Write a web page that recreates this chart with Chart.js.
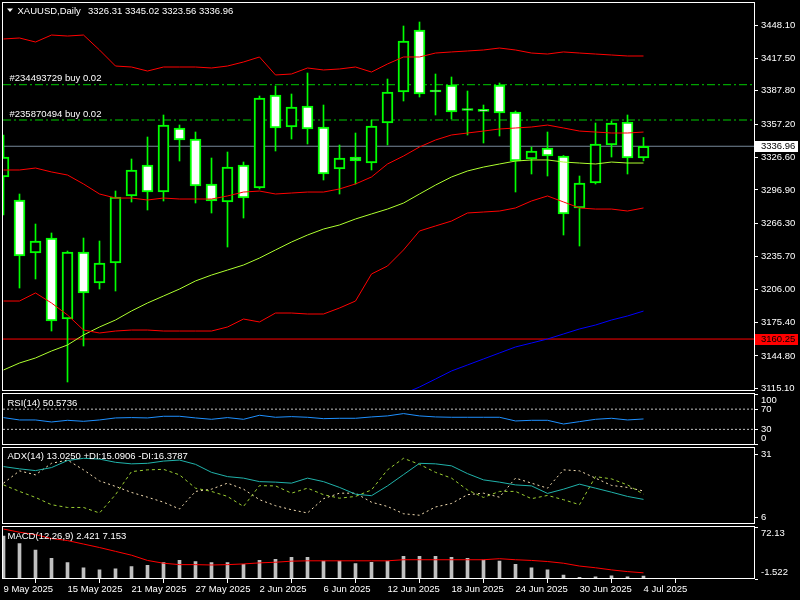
<!DOCTYPE html>
<html><head><meta charset="utf-8">
<script src="https://cdn.jsdelivr.net/npm/chart.js@4.4.1/dist/chart.umd.min.js"></script>
<style>
html,body{margin:0;padding:0;background:#000;width:800px;height:600px;overflow:hidden}
canvas{position:absolute;left:0}
</style></head><body>
<canvas id="cMain" width="800" height="393" style="top:0px;width:800px;height:393px"></canvas>
<canvas id="cRsi" width="800" height="53" style="top:393px;width:800px;height:53px"></canvas>
<canvas id="cAdx" width="800" height="79" style="top:446px;width:800px;height:79px"></canvas>
<canvas id="cMacd" width="800" height="75" style="top:525px;width:800px;height:75px"></canvas>
<script>
// ---------------- data ----------------
const dates = ['9 May 2025','12 May 2025','13 May 2025','14 May 2025','15 May 2025','16 May 2025','19 May 2025','20 May 2025','21 May 2025','22 May 2025','23 May 2025','26 May 2025','27 May 2025','28 May 2025','29 May 2025','30 May 2025','2 Jun 2025','3 Jun 2025','4 Jun 2025','5 Jun 2025','6 Jun 2025','9 Jun 2025','10 Jun 2025','11 Jun 2025','12 Jun 2025','13 Jun 2025','16 Jun 2025','17 Jun 2025','18 Jun 2025','19 Jun 2025','20 Jun 2025','23 Jun 2025','24 Jun 2025','25 Jun 2025','26 Jun 2025','27 Jun 2025','30 Jun 2025','1 Jul 2025','2 Jul 2025','3 Jul 2025','4 Jul 2025'];
const dateTickEvery = 4;

const open  = [3308.78,3287.70,3239.11,3252.86,3178.62,3240.03,3211.61,3229.95,3291.36,3319.78,3295.03,3353.69,3343.61,3302.36,3285.86,3319.78,3298.69,3383.94,3354.61,3373.85,3354.61,3316.11,3327.11,3321.61,3358.27,3386.69,3443.52,3388.06,3393.10,3370.19,3369.27,3393.10,3368.36,3325.28,3335.36,3328.02,3280.36,3303.28,3338.11,3359.19,3326.31];
const high  = [3347.27,3293.19,3265.69,3257.45,3240.95,3252.86,3250.11,3295.94,3325.28,3345.44,3365.61,3356.44,3350.03,3326.19,3331.69,3322.53,3383.02,3392.19,3384.85,3404.10,3374.77,3338.11,3349.11,3361.02,3398.60,3447.18,3450.85,3403.19,3400.44,3387.60,3374.77,3394.94,3369.27,3336.27,3350.03,3328.50,3309.69,3358.27,3360.11,3365.61,3345.02];
const low   = [3273.94,3207.03,3215.28,3167.62,3120.88,3153.88,3206.11,3204.28,3285.86,3278.53,3286.78,3323.44,3284.95,3275.78,3244.61,3271.19,3297.78,3332.61,3343.61,3339.03,3306.03,3293.19,3302.36,3315.19,3338.11,3378.44,3382.11,3365.61,3361.94,3347.27,3339.94,3346.36,3295.03,3311.53,3309.69,3255.61,3245.53,3302.36,3327.11,3311.53,3323.56];
const close = [3327.11,3236.37,3250.11,3176.79,3240.03,3202.45,3229.95,3290.44,3315.19,3295.03,3356.44,3342.69,3300.53,3286.78,3317.94,3289.53,3381.19,3353.69,3372.94,3352.78,3311.53,3326.19,3323.44,3355.52,3386.69,3433.43,3384.85,3386.69,3368.36,3369.73,3369.00,3367.44,3323.44,3332.61,3328.02,3274.86,3303.28,3339.03,3358.27,3326.19,3336.96];

const bbUpper = [3435.3,3436.2,3432.5,3438.9,3438.0,3438.9,3425.2,3410.5,3409.6,3405.9,3409.6,3409.6,3409.6,3408.7,3410.5,3414.2,3418.8,3402.3,3403.2,3408.7,3406.9,3407.8,3409.6,3405.0,3412.4,3418.8,3418.8,3422.4,3423.4,3424.3,3425.2,3427.0,3425.2,3422.4,3421.5,3423.4,3422.4,3421.5,3420.6,3419.7,3419.7];
const bbMid   = [3315.2,3315.2,3317.0,3313.4,3310.6,3302.4,3293.2,3289.5,3289.5,3287.7,3289.5,3288.6,3288.6,3288.6,3291.4,3295.0,3295.9,3293.2,3294.1,3295.0,3295.0,3297.8,3302.4,3308.8,3320.7,3328.0,3336.3,3342.7,3347.3,3349.1,3350.9,3352.8,3353.7,3354.6,3356.4,3353.7,3350.9,3350.0,3349.1,3349.1,3350.0];
const bbLower = [3195.1,3195.1,3202.5,3193.3,3182.3,3168.5,3165.8,3167.6,3168.5,3168.5,3167.6,3167.6,3167.6,3167.6,3171.3,3178.6,3175.9,3184.1,3184.1,3183.2,3183.2,3188.7,3195.1,3219.9,3227.2,3241.9,3259.3,3263.9,3268.4,3275.8,3276.7,3277.6,3280.4,3286.8,3291.4,3285.9,3280.4,3279.4,3279.4,3277.6,3280.4];
const maFast  = [3131.9,3138.3,3142.9,3149.3,3154.8,3164.0,3171.3,3177.7,3186.0,3193.3,3199.7,3206.1,3213.5,3218.9,3223.5,3228.1,3234.5,3241.9,3249.2,3255.6,3261.1,3264.8,3270.3,3274.9,3279.4,3284.9,3293.2,3301.4,3308.8,3314.3,3317.9,3320.7,3323.4,3324.4,3324.4,3322.5,3321.6,3320.7,3322.5,3321.6,3321.6];
const maSlow  = [null,null,null,null,null,null,null,null,null,null,null,null,null,null,null,null,null,null,null,null,null,null,3087.9,3095.2,3102.5,3109.9,3116.3,3123.6,3131.0,3136.5,3142.0,3147.5,3153.0,3156.6,3160.3,3164.9,3169.5,3173.1,3177.7,3181.4,3185.9];

const priceTicks = [3448.10,3417.50,3387.80,3357.20,3326.60,3296.90,3266.30,3235.70,3206.00,3175.40,3144.80,3115.10];
const bidPrice = 3336.96;
const redLevel = 3160.25;
const orders = [{ticket:'#234493729', side:'buy', lots:'0.02', price:3393.38},
                {ticket:'#235870494', side:'buy', lots:'0.02', price:3361.02}];

const rsi = [53.3,48.6,48.6,44.6,47.9,45.9,48.6,52.6,53.3,52.6,55.9,55.9,52.6,49.9,53.3,49.9,57.9,53.9,55.2,53.9,51.2,51.9,51.9,54.6,56.6,61.2,56.6,54.6,53.9,53.9,53.9,53.9,46.6,47.9,47.9,40.6,45.3,49.9,51.9,48.6,50.5736];
const rsiLevels = [70, 30];

const adx     = [26.1,25.2,24.5,25.7,28.5,29.4,29.1,27.8,27.2,27.4,28.3,28.7,27.0,23.8,22.1,21.5,20.1,19.9,19.5,21.5,20.1,17.8,15.1,14.5,18.4,22.9,27.4,27.2,26.4,23.3,20.8,19.9,18.8,18.4,15.4,17.1,19.1,17.5,15.9,14.2,13.025];
const plusDI  = [18.8,16.2,13.8,10.9,9.8,9.8,7.6,14.9,24.1,24.8,25.0,22.8,17.5,16.2,14.2,10.2,18.5,18.4,15.5,17.5,14.9,13.5,14.2,16.8,24.8,29.4,27.0,23.8,21.5,16.8,13.8,16.2,16.2,13.3,14.6,12.9,10.9,22.1,21.2,18.8,15.0906];
const minusDI = [19.5,24.4,22.8,27.4,28.7,24.8,20.4,18.2,15.8,13.9,11.9,9.2,16.2,17.1,19.5,17.1,12.9,10.5,8.9,7.6,13.3,15.5,15.5,11.9,10.2,7.3,6.7,10.0,11.4,14.9,15.5,13.9,21.5,19.5,17.5,24.8,24.4,21.5,18.6,17.8,16.3787];

const macdMain   = [59.0,48.2,39.3,27.5,21.7,14.3,11.3,12.8,15.8,17.7,21.7,24.6,23.1,21.7,21.7,19.2,24.6,26.1,29.0,29.0,23.6,23.6,20.2,22.1,23.6,30.5,30.5,30.5,29.0,27.5,25.1,23.6,19.2,14.3,11.3,4.0,1.0,1.5,3.0,1.5,2.421];
const macdSignal = [68.8,64.4,60.9,55.5,52.6,47.7,42.8,37.4,32.0,24.6,20.7,18.7,18.7,18.2,18.7,19.7,21.2,22.1,23.6,24.1,24.1,24.1,24.1,24.1,24.1,25.6,25.6,25.6,25.6,25.6,25.6,27.1,25.6,24.6,23.1,20.7,16.7,14.3,11.3,8.9,7.153];

// ---------------- setup ----------------
const FONT_SIZE = 9.5;
const FONT = FONT_SIZE + 'px "Liberation Sans", Arial, sans-serif';
Chart.defaults.font.family = '"Liberation Sans", Arial, sans-serif';
Chart.defaults.font.size = FONT_SIZE;
Chart.defaults.color = '#ffffff';

const X_MIN = -1/32, X_MAX = 47 - 1/32;
const idx = dates.map((d, i) => i);
const last = arr => arr[arr.length - 1];
const pts = arr => arr.map((v, i) => ({x: i, y: v}));
const hline = v => [{x: X_MIN - 1, y: v}, {x: X_MAX + 1, y: v}];
const line = (data, color, extra) => Object.assign({type: 'line', data: data, borderColor: color, borderWidth: 1, pointRadius: 0, tension: 0, fill: false, spanGaps: false, order: 1}, extra || {});

function xHidden() {
  return {type: 'linear', min: X_MIN, max: X_MAX, offset: false, display: false};
}

const decoPlugin = {
  id: 'deco',
  afterDraw(chart, args, opts) {
    const ctx = chart.ctx, a = chart.chartArea, ys = chart.scales.y;
    ctx.save();
    const L = Math.round(a.left), R = Math.round(a.right), T = Math.round(a.top), B = Math.round(a.bottom);
    ctx.strokeStyle = '#ffffff'; ctx.lineWidth = 1;
    ctx.strokeRect(L - 0.5, T - 0.5, R - L, B - T);
    ctx.font = FONT; ctx.textBaseline = 'middle'; ctx.textAlign = 'left';
    if (opts.triangle) {
      ctx.fillStyle = '#ffffff'; ctx.beginPath();
      ctx.moveTo(7, 8.5); ctx.lineTo(13, 8.5); ctx.lineTo(10, 12); ctx.closePath(); ctx.fill();
    }
    (opts.texts || []).forEach(t => { ctx.fillStyle = t.color || '#ffffff'; ctx.fillText(t.text, t.x, t.y); });
    (opts.priceTexts || []).forEach(t => { ctx.fillStyle = t.color || '#ffffff'; ctx.fillText(t.text, t.x, ys.getPixelForValue(t.value) + t.dy); });
    (opts.axisLabels || []).forEach(l => {
      const py = ys.getPixelForValue(l.value);
      if (py >= a.top && py <= a.bottom) {
        ctx.beginPath(); ctx.moveTo(R, Math.round(py) + 0.5); ctx.lineTo(R + 3, Math.round(py) + 0.5); ctx.stroke();
      }
      const ly = Math.min(Math.max(py, a.top + 6.5), a.bottom - 6.5);
      ctx.fillStyle = '#ffffff'; ctx.fillText(l.text, R + 6, ly);
    });
    (opts.tags || []).forEach(t => {
      const py = ys.getPixelForValue(t.value);
      ctx.fillStyle = t.bg; ctx.fillRect(R, Math.round(py) - 5, 43, 11);
      ctx.fillStyle = t.color; ctx.fillText(t.text, R + 6, Math.round(py) + 0.5);
    });
    ctx.restore();
  }
};

const baseOpts = (pad) => ({
  responsive: false, animation: false, events: [],
  layout: {padding: pad},
  plugins: {legend: {display: false}, tooltip: {enabled: false}}
});

// ---------------- main price chart ----------------
{
  const opts = baseOpts({left: 3, right: 0, top: 3, bottom: 2});
  opts.scales = {
    x: xHidden(),
    y: {
      position: 'right', min: 3112.63, max: 3468.27,
      afterBuildTicks: s => { s.ticks = priceTicks.map(v => ({value: v})); },
      afterFit: s => { s.width = 45; s.paddingTop = 0; s.paddingBottom = 0; },
      grid: {drawOnChartArea: false, drawTicks: true, tickLength: 3, color: '#ffffff'},
      border: {display: false},
      ticks: {color: '#ffffff', padding: 3, autoSkip: false, callback: v => Number(v).toFixed(2)}
    }
  };
  opts.plugins.deco = {
    triangle: true,
    texts: [
      {text: 'XAUUSD,Daily', x: 17.5, y: 11.5},
      {text: [last(open), last(high), last(low), last(close)].map(v => v.toFixed(2)).join(' '), x: 88, y: 11.5}
    ],
    priceTexts: orders.map(o => ({text: o.ticket + ' ' + o.side + ' ' + o.lots, x: 9.5, value: o.price, dy: -6})),
    tags: [
      {value: bidPrice, text: bidPrice.toFixed(2), bg: '#ffffff', color: '#000000'},
      {value: redLevel, text: redLevel.toFixed(2), bg: '#ff0000', color: '#000000'}
    ]
  };
  new Chart(document.getElementById('cMain'), {
    type: 'bar',
    data: {datasets: [
      line(hline(bidPrice), '#778899', {order: 30}),
      line(hline(redLevel), '#ff0000', {order: 30}),
      line(hline(orders[0].price), '#00cc00', {order: 30, borderDash: [8, 3, 2, 3]}),
      line(hline(orders[1].price), '#00cc00', {order: 30, borderDash: [8, 3, 2, 3]}),
      {type: 'bar', data: idx.map(i => ({x: i, y: [low[i], high[i]]})), backgroundColor: '#00ff00', borderWidth: 0,
       barThickness: 1, grouped: false, order: 20},
      {type: 'bar', data: idx.map(i => ({x: i, y: [open[i], close[i]]})),
       backgroundColor: idx.map(i => close[i] < open[i] ? '#ffffff' : '#000000'),
       borderColor: '#00ff00', borderWidth: 2, borderSkipped: false, minBarLength: 2,
       barThickness: 11, grouped: false, order: 10},
      line(pts(bbUpper), '#ff0000'),
      line(pts(bbMid), '#ff0000'),
      line(pts(bbLower), '#ff0000'),
      line(pts(maFast), '#adff2f'),
      line(pts(maSlow), '#0000ff')
    ]},
    options: opts,
    plugins: [decoPlugin]
  });
}

// ---------------- RSI ----------------
{
  const opts = baseOpts({left: 3, right: 45, top: 1, bottom: 1});
  opts.scales = {x: xHidden(), y: {display: false, min: -1, max: 100}};
  opts.plugins.deco = {
    texts: [{text: 'RSI(14) ' + last(rsi).toFixed(4), x: 7.5, y: 10}],
    axisLabels: [{value: 100, text: '100'}, {value: 70, text: '70'}, {value: 30, text: '30'}, {value: 0, text: '0'}]
  };
  new Chart(document.getElementById('cRsi'), {
    type: 'line',
    data: {datasets: [
      line(hline(rsiLevels[0]), '#c0c0c0', {borderDash: [2, 2], order: 5}),
      line(hline(rsiLevels[1]), '#c0c0c0', {borderDash: [2, 2], order: 5}),
      line(pts(rsi), '#1e90ff')
    ]},
    options: opts,
    plugins: [decoPlugin]
  });
}

// ---------------- ADX ----------------
{
  const opts = baseOpts({left: 3, right: 45, top: 1.5, bottom: 1.5});
  opts.scales = {x: xHidden(), y: {display: false, min: 3.41, max: 33.71}};
  opts.plugins.deco = {
    texts: [{text: 'ADX(14) ' + last(adx).toFixed(4) + ' +DI:' + last(plusDI).toFixed(4) + ' -DI:' + last(minusDI).toFixed(4), x: 7.5, y: 10}],
    axisLabels: [{value: 31, text: '31'}, {value: 6, text: '6'}]
  };
  new Chart(document.getElementById('cAdx'), {
    type: 'line',
    data: {datasets: [
      line(pts(minusDI), '#f5deb3', {borderDash: [2, 3], order: 3}),
      line(pts(plusDI), '#9acd32', {borderDash: [3, 3], order: 2}),
      line(pts(adx), '#20b2aa', {order: 1})
    ]},
    options: opts,
    plugins: [decoPlugin]
  });
}

// ---------------- MACD ----------------
{
  const opts = baseOpts({left: 3, right: 45, top: 1.7, bottom: 0});
  opts.scales = {
    x: {
      type: 'linear', min: X_MIN, max: X_MAX, offset: false, position: 'bottom',
      afterBuildTicks: s => { s.ticks = idx.filter(i => i % dateTickEvery === 0).map(i => ({value: i})); },
      afterFit: s => { s.height = 21; s.paddingLeft = 0; s.paddingRight = 0; },
      grid: {drawOnChartArea: false, drawTicks: true, tickLength: 4, color: '#ffffff', lineWidth: 1},
      border: {display: false},
      ticks: {color: '#ffffff', align: 'start', maxRotation: 0, minRotation: 0, autoSkip: false, padding: 1,
              callback: v => dates[v]}
    },
    y: {display: false, min: -1.522, max: 72.13}
  };
  opts.plugins.deco = {
    texts: [{text: 'MACD(12,26,9) ' + last(macdMain).toFixed(3) + ' ' + last(macdSignal).toFixed(3), x: 7.5, y: 11}],
    axisLabels: [{value: 72.13, text: '72.13'}, {value: -1.522, text: '-1.522'}]
  };
  new Chart(document.getElementById('cMacd'), {
    type: 'bar',
    data: {datasets: [
      {type: 'bar', data: pts(macdMain), backgroundColor: '#c0c0c0', borderWidth: 0, barThickness: 3, grouped: false, order: 5},
      line(pts(macdSignal), '#ff0000', {order: 1})
    ]},
    options: opts,
    plugins: [decoPlugin]
  });
}
</script>
</body></html>
